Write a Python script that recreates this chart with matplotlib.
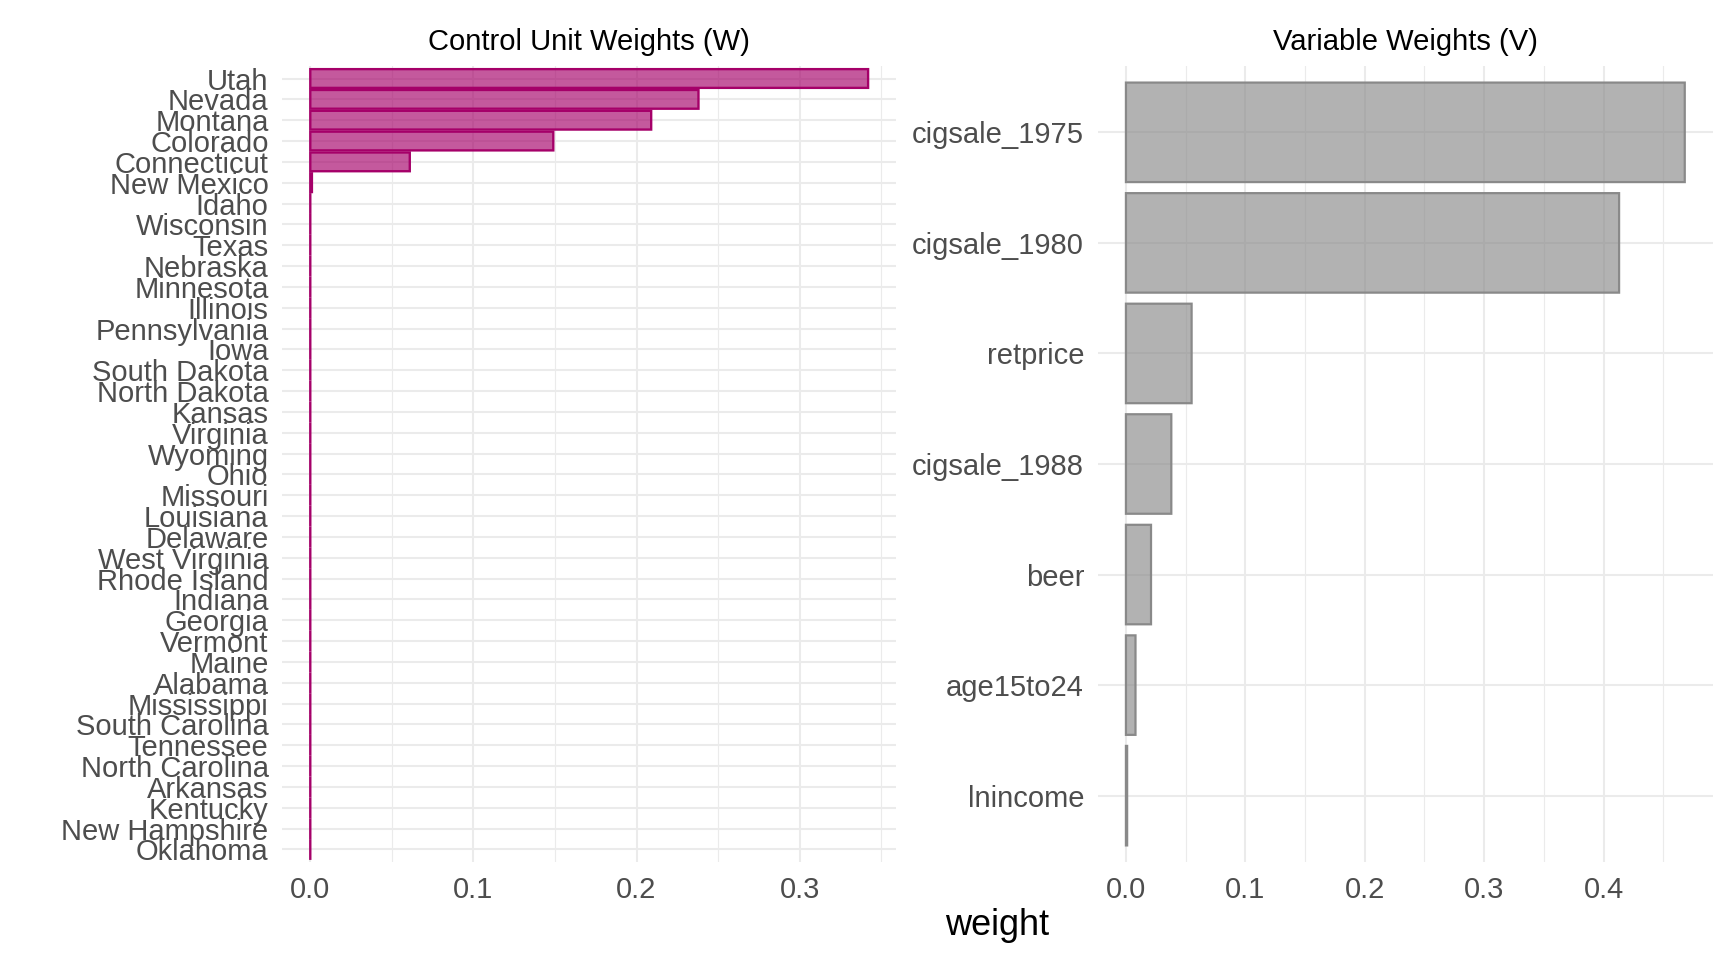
import matplotlib
matplotlib.use("Agg")
import matplotlib.pyplot as plt
from matplotlib.ticker import MultipleLocator

plt.rcParams['font.family'] = ['Liberation Sans', 'DejaVu Sans']

# ---- data ----
states = ["Utah", "Nevada", "Montana", "Colorado", "Connecticut", "New Mexico",
          "Idaho", "Wisconsin", "Texas", "Nebraska", "Minnesota", "Illinois",
          "Pennsylvania", "Iowa", "South Dakota", "North Dakota", "Kansas",
          "Virginia", "Wyoming", "Ohio", "Missouri", "Louisiana", "Delaware",
          "West Virginia", "Rhode Island", "Indiana", "Georgia", "Vermont",
          "Maine", "Alabama", "Mississippi", "South Carolina", "Tennessee",
          "North Carolina", "Arkansas", "Kentucky", "New Hampshire", "Oklahoma"]
state_weights = [0.342, 0.238, 0.209, 0.149, 0.061, 0.001,
                 0.0, 0.0, 0.0, 0.0, 0.0, 0.0,
                 0.0, 0.0, 0.0, 0.0, 0.0,
                 0.0, 0.0, 0.0, 0.0, 0.0, 0.0,
                 0.0, 0.0, 0.0, 0.0, 0.0,
                 0.0, 0.0, 0.0, 0.0, 0.0,
                 0.0, 0.0, 0.0, 0.0, 0.0]

variables = ["cigsale_1975", "cigsale_1980", "retprice", "cigsale_1988",
             "beer", "age15to24", "lnincome"]
var_weights = [0.468, 0.413, 0.055, 0.038, 0.021, 0.008, 0.001]

left_title = "Control Unit Weights (W)"
right_title = "Variable Weights (V)"
x_label = "weight"

# ---- styling ----
W, H = 1728, 960
fig = plt.figure(figsize=(W / 100, H / 100), dpi=100)
fig.patch.set_facecolor("white")

top_px, bot_px = 66, 862
ax_b = 1 - bot_px / H
ax_h = (bot_px - top_px) / H
axL = fig.add_axes([282.4 / W, ax_b, (896 - 282.4) / W, ax_h])
axR = fig.add_axes([1098 / W, ax_b, (1712.7 - 1098) / W, ax_h])

pink = "#A50069"
gray = "#898989"
grid_c = "#EBEBEB"
tick_c = "#4D4D4D"
fs = 21


def style(ax, cats, vals, color, lw, major, minor, zero_h):
    n = len(cats)
    ypos = list(range(n))
    ax.set_axisbelow(True)
    ax.barh(ypos, vals, height=0.9, color=color, alpha=0.65, zorder=2,
            linewidth=0)
    heights = [zero_h if v == 0 else 0.9 for v in vals]
    edges = ax.barh(ypos, vals, height=heights, facecolor="none",
                    edgecolor=color, linewidth=lw, zorder=3)
    for p in edges:
        p.set_snap(False)
    vmax = max(vals)
    ax.set_xlim(-0.05 * vmax, 1.05 * vmax)
    ax.set_ylim(n - 1 + 0.6, -0.6)
    ax.set_yticks(ypos)
    ax.set_yticklabels(cats)
    ax.xaxis.set_major_locator(MultipleLocator(major))
    ax.xaxis.set_minor_locator(MultipleLocator(minor))
    ax.xaxis.set_major_formatter(matplotlib.ticker.FormatStrFormatter("%.1f"))
    ax.grid(which="major", axis="both", color=grid_c, linewidth=1.5, zorder=0)
    ax.grid(which="minor", axis="x", color=grid_c, linewidth=0.8, zorder=0)
    for s in ax.spines.values():
        s.set_visible(False)
    ax.tick_params(axis="both", which="both", length=0, colors=tick_c,
                   labelsize=fs)
    ax.tick_params(axis="y", pad=10)
    ax.tick_params(axis="x", pad=10)
    ax.set_facecolor("white")


style(axL, states, state_weights, pink, 1.7, 0.1, 0.05, 1.0)
style(axR, variables, var_weights, gray, 1.6, 0.1, 0.05, 0.9)

fig.text((282.4 + 896) / 2 / W, 1 - 50 / H, left_title, ha="center",
         va="baseline", fontsize=fs, color="black")
fig.text((1098 + 1712.7) / 2 / W, 1 - 50 / H, right_title, ha="center",
         va="baseline", fontsize=fs, color="black")
fig.text(997 / W, 1 - 935 / H, x_label, ha="center", va="baseline",
         fontsize=26, color="black")

fig.savefig("out.png", dpi=100, facecolor="white")
